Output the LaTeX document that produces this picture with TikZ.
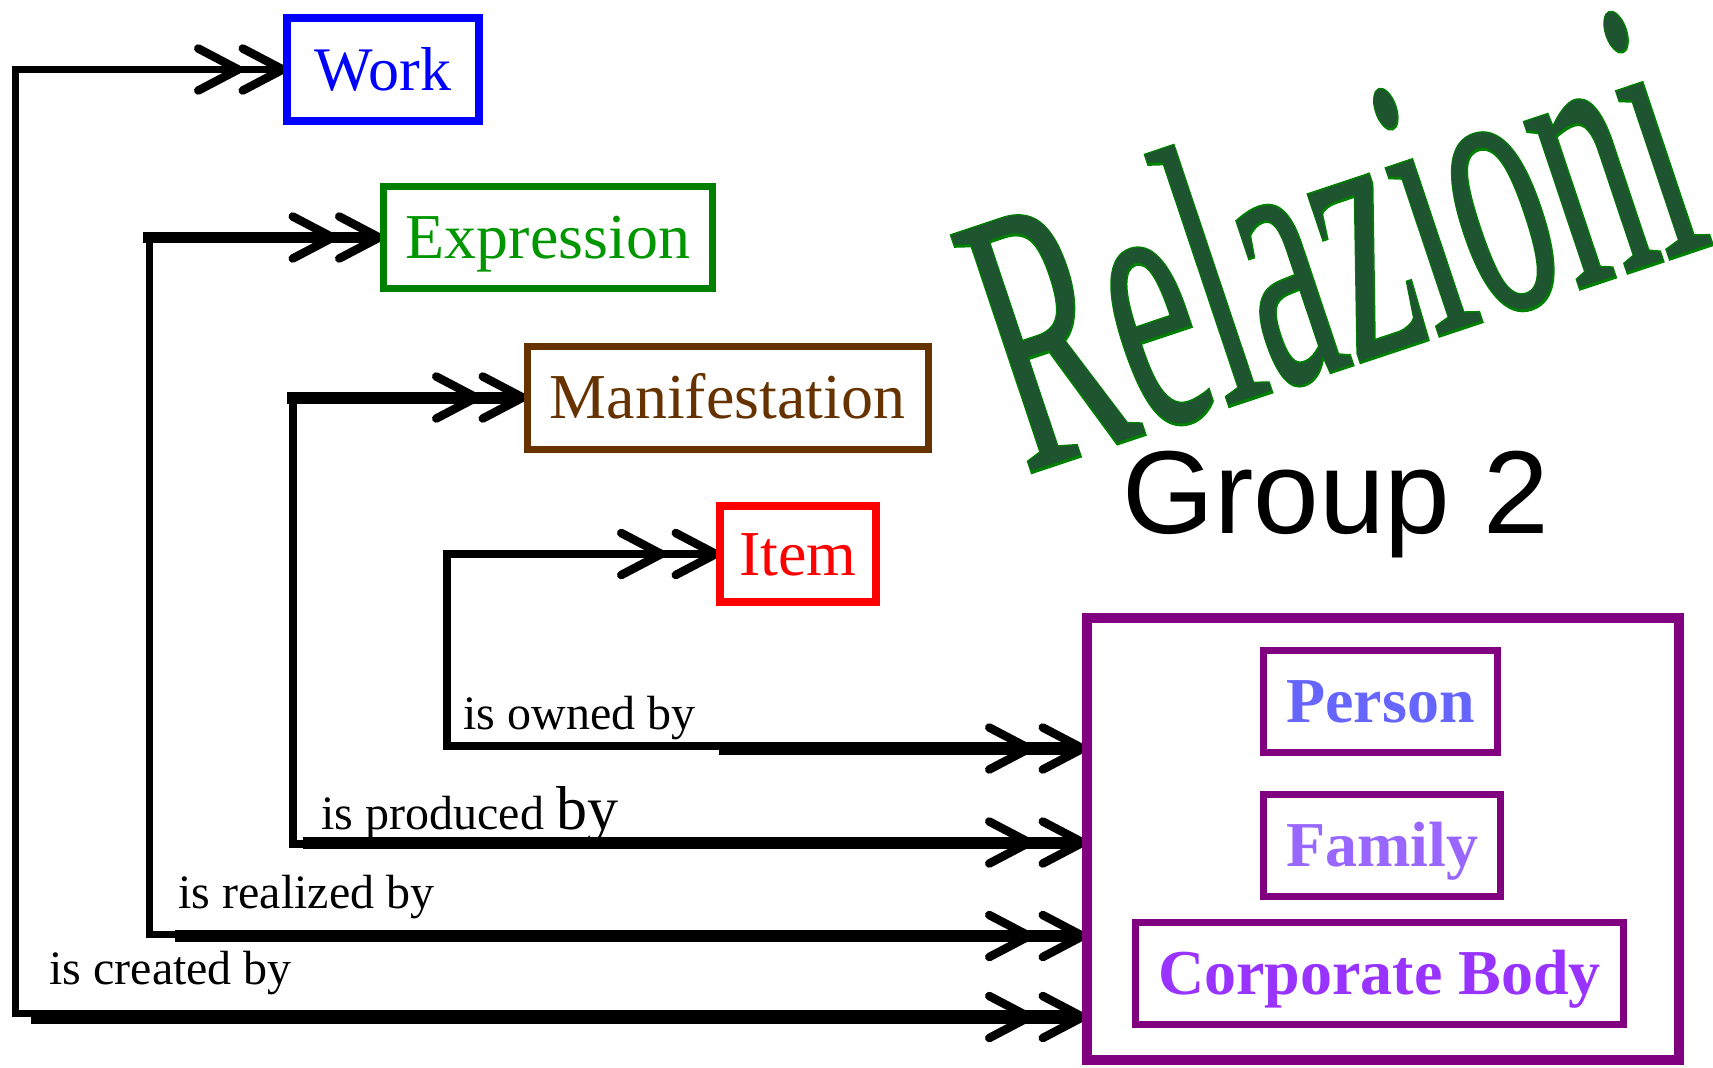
\documentclass[tikz,border=0pt]{standalone}
\usepackage{fontspec}
\setmainfont{Liberation Serif}
\newfontfamily\sansG{Liberation Sans}
\newfontfamily\relEdge{Liberation Serif}[FakeBold=1.2]
\usetikzlibrary{arrows.meta}
\pgfdeclarelayer{bg}
\pgfsetlayers{bg,main}
\definecolor{wblue}{RGB}{0,0,255}
\definecolor{egreen}{RGB}{0,128,0}
\definecolor{etext}{RGB}{0,150,0}
\definecolor{mbrown}{RGB}{102,51,0}
\definecolor{ired}{RGB}{255,0,0}
\definecolor{gpurple}{RGB}{128,0,128}
\definecolor{pblue}{RGB}{102,102,255}
\definecolor{fviolet}{RGB}{153,102,255}
\definecolor{cviolet}{RGB}{153,51,255}
\definecolor{relfill}{RGB}{30,84,48}
\definecolor{reledge}{RGB}{0,128,0}
\tikzset{
  chev/.tip={Straight Barb[length=20pt,width=21pt,line width=4.25pt,round]},
  ent/.style={draw, inner sep=0pt, outer sep=0pt, line width=3.5pt, text height=21pt, text depth=0pt, font=\fontsize{32pt}{38pt}\selectfont},
  grp/.style={ent, draw=gpurple, font=\fontsize{32pt}{38pt}\selectfont\bfseries},
  lbl/.style={inner sep=0pt, anchor=base west, font=\fontsize{24pt}{29pt}\selectfont},
  wire/.style={line width=#1, draw=black},
  Lend/.style={-{chev[sep=#1]chev}},
  relz/.style={inner sep=0pt, anchor=base west, rotate=18.5, xscale=0.5},
}
\begin{document}
\begin{tikzpicture}[x=0.5pt,y=-0.5pt]
\useasboundingbox (0,0) rectangle (1713,1067);
% title
\node[relz, text=reledge, font=\relEdge\fontsize{190pt}{190pt}\selectfont] (relE) at (1025,474) {Relazioni};
\node[relz, text=relfill, font=\fontsize{190pt}{190pt}\selectfont] (rel) at (1025,474) {Relazioni};
\node[inner sep=0pt, anchor=base west, font=\sansG\fontsize{59pt}{61pt}\selectfont] (grp2) at (1122,533) {Group 2};
% group 1 boxes
\node[ent, draw=wblue, text=wblue, line width=4pt, minimum width=96pt, minimum height=51.5pt, font=\fontsize{31pt}{36pt}\selectfont, text height=20.5pt] (work) at (383,69.5) {Work};
\node[ent, draw=egreen, text=etext, minimum width=164.5pt, minimum height=51pt] (expr) at (548,237.5) {Expression};
\node[ent, draw=mbrown, text=mbrown, minimum width=200.5pt, minimum height=51.5pt] (manif) at (727.5,397.5) {Manifestation};
\node[ent, draw=ired, text=ired, line width=4pt, minimum width=78pt, minimum height=48pt] (item) at (798,554) {Item};
% group 2 boxes
\node[ent, draw=gpurple, line width=5pt, minimum width=296pt, minimum height=221pt] (g2) at (1383,839) {};
\node[grp, text=pblue, minimum width=117pt, minimum height=51pt] (person) at (1380.5,701.5) {Person};
\node[grp, text=fviolet, minimum width=118.5pt, minimum height=51pt] (family) at (1382,845.5) {Family};
\node[grp, text=cviolet, minimum width=244pt, minimum height=51pt] (corp) at (1379.5,973.5) {Corporate Body};
% labels
\node[lbl] (lown) at (463,729) {is owned by};
\node[lbl] (lprod) at (321,829) {is produced {\fontsize{31pt}{36pt}\selectfont by}};
\node[lbl] (lreal) at (178,908) {is realized by};
\node[lbl] (lcre) at (49,984) {is created by};
% connectors
\coordinate (cw1) at (35,1013.5);
\coordinate (cw2) at (15.5,1013.5);
\coordinate (cw3) at (31,1017);
\coordinate (ce1) at (180,934);
\coordinate (ce2) at (149.5,237.5);
\coordinate (ce3) at (143,237.5);
\coordinate (ce4) at (175,936);
\coordinate (cm1) at (310,844);
\coordinate (cm2) at (293,397.5);
\coordinate (cm3) at (287,397.5);
\coordinate (cm4) at (303,842.5);
\coordinate (ci1) at (447,745.5);
\coordinate (ci2) at (725,745.5);
\coordinate (ci3) at (719,748.5);
\begin{pgfonlayer}{bg}
\draw[wire=3.75pt, Lend=-2pt] (cw1) -- (cw2) |- (work.west);
\draw[wire=7pt, Lend=2.5pt] (cw3) -- (cw3 -| g2.west);
\draw[wire=3.5pt] (ce1) -| (ce2);
\draw[wire=5.5pt, Lend=-1pt] (ce3) -- (expr.west);
\draw[wire=6pt, Lend=2.5pt] (ce4) -- (ce4 -| g2.west);
\draw[wire=4pt] (cm1) -| (cm2);
\draw[wire=6pt, Lend=-1pt] (cm3) -- (manif.west);
\draw[wire=6pt, Lend=2.5pt] (cm4) -- (cm4 -| g2.west);
\draw[wire=4pt, Lend=3pt] (ci2) -- (ci1) |- (item.west);
\draw[wire=6.5pt, Lend=2.5pt] (ci3) -- (ci3 -| g2.west);
\end{pgfonlayer}
\end{tikzpicture}
\end{document}
